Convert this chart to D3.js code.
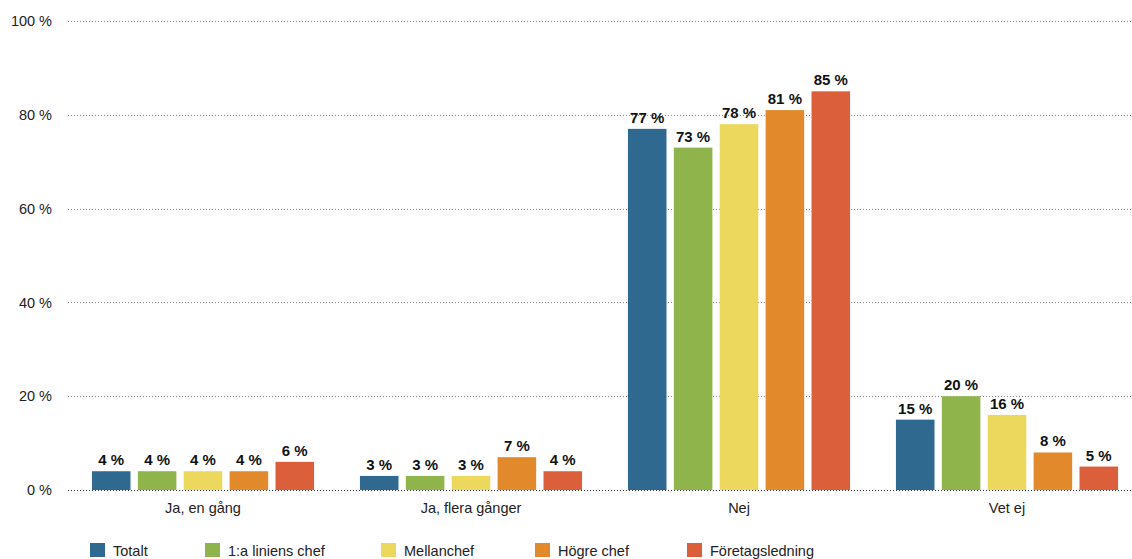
<!DOCTYPE html>
<html>
<head>
<meta charset="utf-8">
<script src="https://cdn.jsdelivr.net/npm/d3@7"></script>
<style>
  html, body { margin: 0; padding: 0; background: #fff; overflow: hidden; }
  svg { display: block; font-family: "Liberation Sans", Arial, Helvetica, sans-serif; }
</style>
</head>
<body>
<svg id="chart" width="1132" height="559"></svg>
<script>
// Answer categories along the x axis
const categories = ["Ja, en gång", "Ja, flera gånger", "Nej", "Vet ej"];
// Respondent groups (one bar per group inside each category)
const seriesNames = ["Totalt", "1:a liniens chef", "Mellanchef", "Högre chef", "Företagsledning"];
const seriesColors = ["#30698f", "#8fb44b", "#ebd85c", "#e2892c", "#db5f3a"];
// Percentages per group, in category order
const totalt      = [4, 3, 77, 15];
const linjeChef   = [4, 3, 73, 20];
const mellanchef  = [4, 3, 78, 16];
const hogreChef   = [4, 7, 81, 8];
const ledning     = [6, 4, 85, 5];
const seriesValues = [totalt, linjeChef, mellanchef, hogreChef, ledning];
// Y axis ticks
const yTicks = [0, 20, 40, 60, 80, 100];
// Legend item x offsets
const legendX = [90, 205, 381, 535, 687];

const svg = d3.select("#chart");

const y = d3.scaleLinear().domain([0, 100]).range([490, 21]);
const x0 = d3.scaleBand().domain(categories).range([69, 1141]).paddingInner(0).paddingOuter(0);
const x1 = d3.scaleBand().domain(seriesNames).range([0, x0.bandwidth()])
  .paddingInner(0.16).paddingOuter(0.5);

// Dotted gridlines
const grid = svg.append("g");
grid.selectAll("line").data(yTicks).join("line")
  .attr("x1", 68).attr("x2", 1132)
  .attr("y1", d => Math.round(y(d)) + 0.5).attr("y2", d => Math.round(y(d)) + 0.5)
  .attr("stroke", d => d === 0 ? "#333" : "#8a8a8a")
  .attr("stroke-width", 1)
  .attr("stroke-dasharray", "1,2");

// Y axis tick labels
const yAxis = d3.axisLeft(y).tickValues(yTicks).tickSize(0).tickPadding(0)
  .tickFormat(d => d + " %");
const yg = svg.append("g").attr("transform", "translate(52,0)").call(yAxis);
yg.select(".domain").remove();
yg.selectAll("text").attr("fill", "#222").attr("font-size", 14.5)
  .attr("font-family", "'Liberation Sans', Arial, sans-serif");

// Bars
const rows = categories.map((c, i) => ({
  cat: c,
  vals: seriesNames.map((s, j) => ({ s, j, v: seriesValues[j][i] }))
}));

const groups = svg.append("g").selectAll("g").data(rows).join("g")
  .attr("transform", d => `translate(${x0(d.cat)},0)`);

groups.selectAll("rect").data(d => d.vals).join("rect")
  .attr("x", d => x1(d.s))
  .attr("width", x1.bandwidth())
  .attr("y", d => y(d.v))
  .attr("height", d => y(0) - y(d.v))
  .attr("fill", d => seriesColors[d.j]);

groups.selectAll("text").data(d => d.vals).join("text")
  .attr("x", d => x1(d.s) + x1.bandwidth() / 2)
  .attr("y", d => y(d.v) - 6)
  .attr("text-anchor", "middle")
  .attr("font-size", 15)
  .attr("font-weight", "bold")
  .attr("fill", "#111")
  .text(d => d.v + " %");

// Category labels
const xAxis = d3.axisBottom(x0).tickSize(0).tickPadding(0);
const xg = svg.append("g").attr("transform", "translate(0,513)").call(xAxis);
xg.select(".domain").remove();
xg.selectAll("text").attr("fill", "#222").attr("font-size", 14.5)
  .attr("font-family", "'Liberation Sans', Arial, sans-serif")
  .attr("dy", 0);

// Legend
const legend = svg.append("g").selectAll("g").data(seriesNames).join("g")
  .attr("transform", (d, i) => `translate(${legendX[i]},543)`);
legend.append("rect").attr("width", 15).attr("height", 14)
  .attr("fill", (d, i) => seriesColors[i]);
legend.append("text").attr("x", 23).attr("y", 12.5)
  .attr("font-size", 14.5).attr("fill", "#222").text(d => d);
</script>
</body>
</html>
